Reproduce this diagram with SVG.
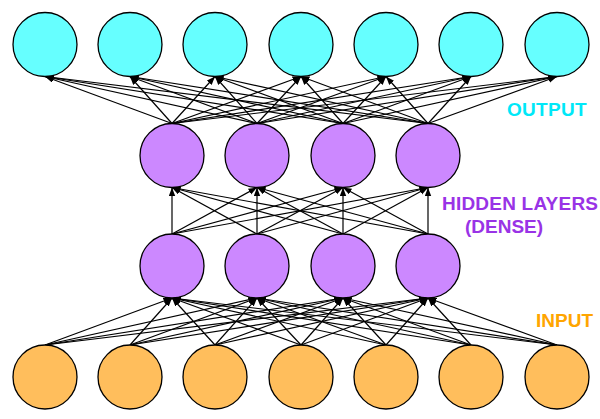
<svg xmlns="http://www.w3.org/2000/svg" width="600" height="419" viewBox="0 0 600 419">
<style>
.out{fill:#66FFFF;stroke:#000;stroke-width:1.3}
.hid{fill:#CC88FF;stroke:#000;stroke-width:1.3}
.inp{fill:#FFBE5C;stroke:#000;stroke-width:1.3}
.e{stroke:#000;stroke-width:1.2;fill:none;marker-end:url(#ah)}
.lbl{font-family:"Liberation Sans",Arial,sans-serif;font-weight:bold;font-size:19px}
</style>
<defs>
<marker id="ah" markerWidth="9" markerHeight="7" refX="8.5" refY="3.2" orient="auto" markerUnits="userSpaceOnUse">
<path d="M0,0 L8.5,3.2 L0,6.4 z" fill="#000"/>
</marker>
</defs>
<rect width="600" height="419" fill="#fff"/>
<g id="connectors">
<path class="e" d="M172,123.5 L45,76.5"/><path class="e" d="M172,123.5 L130,76.5"/><path class="e" d="M172,123.5 L215,76.5"/><path class="e" d="M172,123.5 L301,76.5"/><path class="e" d="M172,123.5 L386,76.5"/><path class="e" d="M172,123.5 L471,76.5"/><path class="e" d="M172,123.5 L557,76.5"/>
<path class="e" d="M257,123.5 L45,76.5"/><path class="e" d="M257,123.5 L130,76.5"/><path class="e" d="M257,123.5 L215,76.5"/><path class="e" d="M257,123.5 L301,76.5"/><path class="e" d="M257,123.5 L386,76.5"/><path class="e" d="M257,123.5 L471,76.5"/><path class="e" d="M257,123.5 L557,76.5"/>
<path class="e" d="M343,123.5 L45,76.5"/><path class="e" d="M343,123.5 L130,76.5"/><path class="e" d="M343,123.5 L215,76.5"/><path class="e" d="M343,123.5 L301,76.5"/><path class="e" d="M343,123.5 L386,76.5"/><path class="e" d="M343,123.5 L471,76.5"/><path class="e" d="M343,123.5 L557,76.5"/>
<path class="e" d="M428,123.5 L45,76.5"/><path class="e" d="M428,123.5 L130,76.5"/><path class="e" d="M428,123.5 L215,76.5"/><path class="e" d="M428,123.5 L301,76.5"/><path class="e" d="M428,123.5 L386,76.5"/><path class="e" d="M428,123.5 L471,76.5"/><path class="e" d="M428,123.5 L557,76.5"/>
<path class="e" d="M172,234 L172,187.5"/><path class="e" d="M172,234 L257,187.5"/><path class="e" d="M172,234 L343,187.5"/><path class="e" d="M172,234 L428,187.5"/>
<path class="e" d="M257,234 L172,187.5"/><path class="e" d="M257,234 L257,187.5"/><path class="e" d="M257,234 L343,187.5"/><path class="e" d="M257,234 L428,187.5"/>
<path class="e" d="M343,234 L172,187.5"/><path class="e" d="M343,234 L257,187.5"/><path class="e" d="M343,234 L343,187.5"/><path class="e" d="M343,234 L428,187.5"/>
<path class="e" d="M428,234 L172,187.5"/><path class="e" d="M428,234 L257,187.5"/><path class="e" d="M428,234 L343,187.5"/><path class="e" d="M428,234 L428,187.5"/>
<path class="e" d="M45,345 L172,298"/><path class="e" d="M45,345 L257,298"/><path class="e" d="M45,345 L343,298"/><path class="e" d="M45,345 L428,298"/>
<path class="e" d="M130,345 L172,298"/><path class="e" d="M130,345 L257,298"/><path class="e" d="M130,345 L343,298"/><path class="e" d="M130,345 L428,298"/>
<path class="e" d="M215,345 L172,298"/><path class="e" d="M215,345 L257,298"/><path class="e" d="M215,345 L343,298"/><path class="e" d="M215,345 L428,298"/>
<path class="e" d="M301,345 L172,298"/><path class="e" d="M301,345 L257,298"/><path class="e" d="M301,345 L343,298"/><path class="e" d="M301,345 L428,298"/>
<path class="e" d="M386,345 L172,298"/><path class="e" d="M386,345 L257,298"/><path class="e" d="M386,345 L343,298"/><path class="e" d="M386,345 L428,298"/>
<path class="e" d="M471,345 L172,298"/><path class="e" d="M471,345 L257,298"/><path class="e" d="M471,345 L343,298"/><path class="e" d="M471,345 L428,298"/>
<path class="e" d="M557,345 L172,298"/><path class="e" d="M557,345 L257,298"/><path class="e" d="M557,345 L343,298"/><path class="e" d="M557,345 L428,298"/>
</g>
<g id="out1"><circle class="out" cx="45" cy="44.5" r="32"/></g>
<g id="out2"><circle class="out" cx="130" cy="44.5" r="32"/></g>
<g id="out3"><circle class="out" cx="215" cy="44.5" r="32"/></g>
<g id="out4"><circle class="out" cx="301" cy="44.5" r="32"/></g>
<g id="out5"><circle class="out" cx="386" cy="44.5" r="32"/></g>
<g id="out6"><circle class="out" cx="471" cy="44.5" r="32"/></g>
<g id="out7"><circle class="out" cx="557" cy="44.5" r="32"/></g>
<g id="h1a"><circle class="hid" cx="172" cy="155.5" r="32"/></g>
<g id="h1b"><circle class="hid" cx="257" cy="155.5" r="32"/></g>
<g id="h1c"><circle class="hid" cx="343" cy="155.5" r="32"/></g>
<g id="h1d"><circle class="hid" cx="428" cy="155.5" r="32"/></g>
<g id="h2a"><circle class="hid" cx="172" cy="266" r="32"/></g>
<g id="h2b"><circle class="hid" cx="257" cy="266" r="32"/></g>
<g id="h2c"><circle class="hid" cx="343" cy="266" r="32"/></g>
<g id="h2d"><circle class="hid" cx="428" cy="266" r="32"/></g>
<g id="in1"><circle class="inp" cx="45" cy="377" r="32"/></g>
<g id="in2"><circle class="inp" cx="130" cy="377" r="32"/></g>
<g id="in3"><circle class="inp" cx="215" cy="377" r="32"/></g>
<g id="in4"><circle class="inp" cx="301" cy="377" r="32"/></g>
<g id="in5"><circle class="inp" cx="386" cy="377" r="32"/></g>
<g id="in6"><circle class="inp" cx="471" cy="377" r="32"/></g>
<g id="in7"><circle class="inp" cx="557" cy="377" r="32"/></g>
<g id="labels">
<text class="lbl" x="507" y="116" fill="#00E8F8" textLength="79.5">OUTPUT</text>
<text class="lbl" x="442" y="210" fill="#9933E6" textLength="156">HIDDEN LAYERS</text>
<text class="lbl" x="465" y="233" fill="#9933E6">(DENSE)</text>
<text class="lbl" x="536" y="327" fill="#FFA500">INPUT</text>
</g>
</svg>
